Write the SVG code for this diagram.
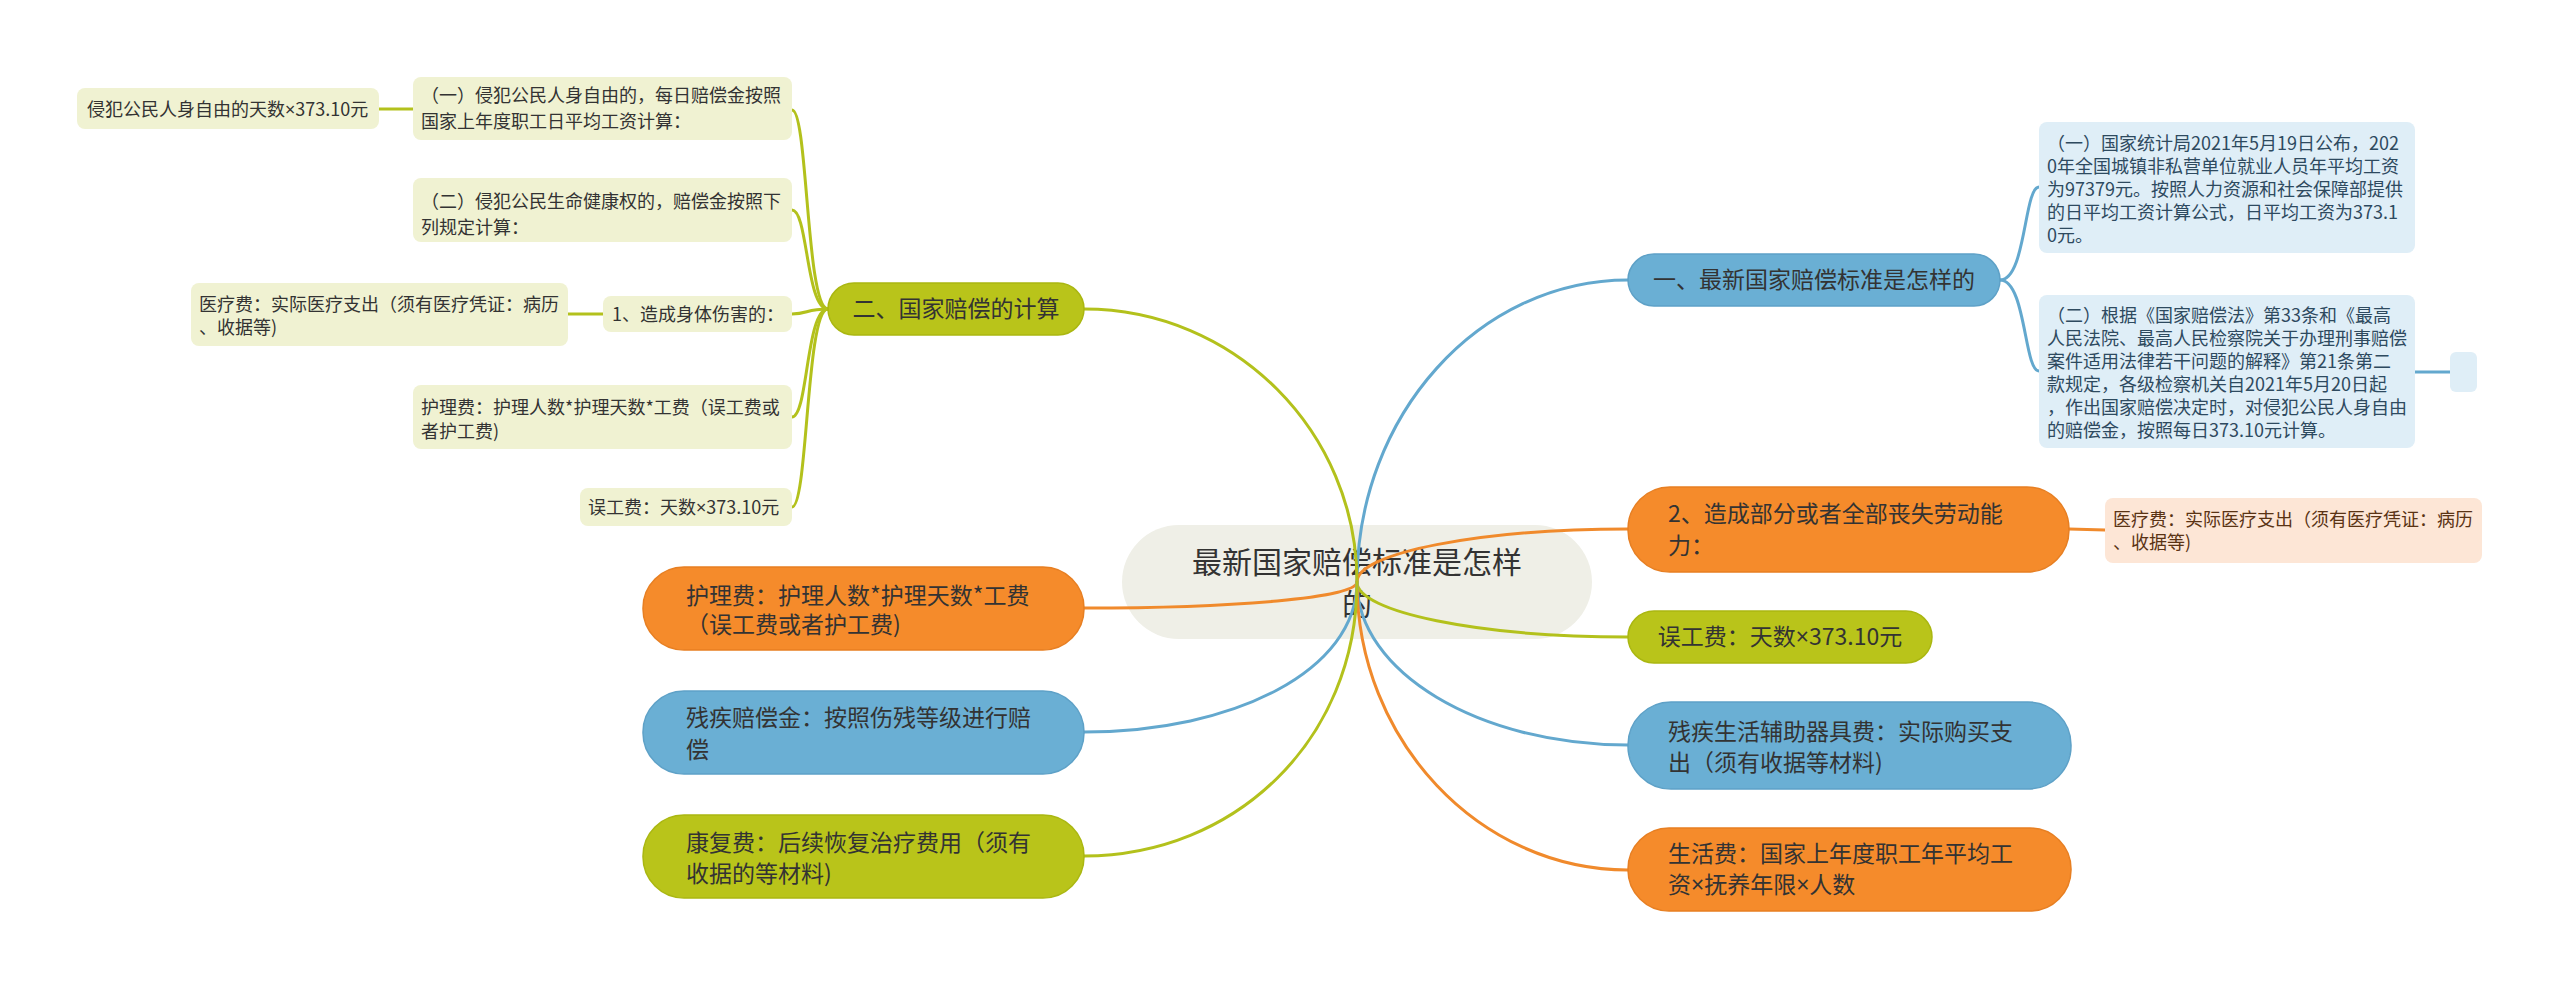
<svg xmlns="http://www.w3.org/2000/svg" width="2560" height="990" viewBox="0 0 2560 990">
<style>
.t{font-family:"Noto Sans CJK SC","Noto Sans",sans-serif;fill:#333}
.x{font-family:"Noto Sans","DejaVu Sans",sans-serif}
.f30{font-size:30px}
.f23{font-size:23px}
.f18{font-size:18px}
.pb{fill:#6aafd4;stroke:#5ea1c7;stroke-width:1.5}
.po{fill:#f58b2b;stroke:#e77f22;stroke-width:1.5}
.pg{fill:#b9c41a;stroke:#aab711;stroke-width:1.5}
.sb{fill:#dfeef7}
.sy{fill:#f0f2d2}
.sp{fill:#fde6d6}
.tb{fill:#2e4a5f}
.tp{fill:#5a3314}
.c{fill:none;stroke-width:3;stroke-linecap:round}
.cb{stroke:#63a8ce}
.co{stroke:#f08a2c}
.cg{stroke:#b3c11c}
</style>
<rect width="2560" height="990" fill="#ffffff"/>
<g id="center">
<rect x="1122" y="525" width="470" height="114" rx="57" fill="#efefe7"/>
<text class="t f30" x="1357" y="573" text-anchor="middle">最新国家赔偿标准是怎样</text>
<text class="t f30" x="1357" y="615" text-anchor="middle">的</text>
</g>
<g id="connectors">
<path class="c cb" d="M1357,582 C1357,415 1479,280 1628,280"/>
<path class="c co" d="M1357,582 C1357,553 1479,529 1628,529"/>
<path class="c cg" d="M1357,582 C1357,612 1479,637 1628,637"/>
<path class="c cb" d="M1357,582 C1357,672 1479,745 1628,745"/>
<path class="c co" d="M1357,582 C1357,740 1479,870 1628,870"/>
<path class="c cg" d="M1357,582 C1357,432 1235,309 1084,309"/>
<path class="c co" d="M1357,582 C1357,598 1235,608 1084,608"/>
<path class="c cb" d="M1357,582 C1357,670 1235,732 1084,732"/>
<path class="c cg" d="M1357,582 C1357,740 1235,856 1084,856"/>
<path class="c cb" d="M2000,280 C2026,280 2024,187 2039,187"/>
<path class="c cb" d="M2000,280 C2026,280 2024,371 2039,371"/>
<path class="c cb" d="M2415,372 L2450,372"/>
<path class="c co" d="M2069,529 L2105,530"/>
<path class="c cg" d="M828,309 C806,309 808,110 792,110"/>
<path class="c cg" d="M828,309 C806,309 808,210 792,210"/>
<path class="c cg" d="M828,309 C806,309 808,314 792,314"/>
<path class="c cg" d="M828,309 C806,309 808,417 792,417"/>
<path class="c cg" d="M828,309 C806,309 808,507 792,507"/>
<path class="c cg" d="M379,109 L413,109"/>
<path class="c cg" d="M568,314 L603,314"/>
</g>
<g id="n1">
<rect class="pb" x="1628" y="254" width="372" height="52" rx="26"/>
<text class="t f23" x="1814" y="288" text-anchor="middle">一、最新国家赔偿标准是怎样的</text>
</g>
<g id="n1a">
<rect class="sb" x="2039" y="122" width="376" height="131" rx="8"/>
<text class="t f18 tb" x="2047"><tspan x="2047" y="149.5">（一）国家统计局2021年5月19日公布，202</tspan><tspan x="2047" y="172.5">0年全国城镇非私营单位就业人员年平均工资</tspan><tspan x="2047" y="195.5">为97379元。按照人力资源和社会保障部提供</tspan><tspan x="2047" y="218.5">的日平均工资计算公式，日平均工资为373.1</tspan><tspan x="2047" y="241.5">0元。</tspan></text>
</g>
<g id="n1b">
<rect class="sb" x="2039" y="295" width="376" height="153" rx="8"/>
<text class="t f18 tb" x="2047"><tspan x="2047" y="321.5">（二）根据《国家赔偿法》第33条和《最高</tspan><tspan x="2047" y="344.5">人民法院、最高人民检察院关于办理刑事赔偿</tspan><tspan x="2047" y="367.5">案件适用法律若干问题的解释》第21条第二</tspan><tspan x="2047" y="390.5">款规定，各级检察机关自2021年5月20日起</tspan><tspan x="2047" y="413.5">，作出国家赔偿决定时，对侵犯公民人身自由</tspan><tspan x="2047" y="436.5">的赔偿金，按照每日373.10元计算。</tspan></text>
</g>
<g id="n1c">
<rect class="sb" x="2450" y="352" width="27" height="40" rx="6"/>
</g>
<g id="n2">
<rect class="po" x="1628" y="487" width="441" height="85" rx="42"/>
<text class="t f23" x="1668"><tspan x="1668" y="522">2、造成部分或者全部丧失劳动能</tspan><tspan x="1668" y="554">力：</tspan></text>
</g>
<g id="n2a">
<rect class="sp" x="2105" y="498" width="377" height="65" rx="8"/>
<text class="t f18 tp" x="2113"><tspan x="2113" y="525.5">医疗费：实际医疗支出（须有医疗凭证：病历</tspan><tspan x="2113" y="548.5">、收据等)</tspan></text>
</g>
<g id="n3">
<rect class="pg" x="1628" y="611" width="304" height="52" rx="26"/>
<text class="t f23" x="1780" y="645" text-anchor="middle">误工费：天数<tspan class="x">×</tspan>373.10元</text>
</g>
<g id="n4">
<rect class="pb" x="1628" y="702" width="443" height="87" rx="43"/>
<text class="t f23" x="1668"><tspan x="1668" y="740">残疾生活辅助器具费：实际购买支</tspan><tspan x="1668" y="771">出（须有收据等材料)</tspan></text>
</g>
<g id="n5">
<rect class="po" x="1628" y="828" width="443" height="83" rx="41"/>
<text class="t f23" x="1668"><tspan x="1668" y="862">生活费：国家上年度职工年平均工</tspan><tspan x="1668" y="893">资<tspan class="x">×</tspan>抚养年限<tspan class="x">×</tspan>人数</tspan></text>
</g>
<g id="n6">
<rect class="pg" x="828" y="283" width="256" height="52" rx="26"/>
<text class="t f23" x="956" y="317" text-anchor="middle">二、国家赔偿的计算</text>
</g>
<g id="n6a">
<rect class="sy" x="413" y="77" width="379" height="63" rx="8"/>
<text class="t f18" x="421"><tspan x="421" y="101.5">（一）侵犯公民人身自由的，每日赔偿金按照</tspan><tspan x="421" y="127.5">国家上年度职工日平均工资计算：</tspan></text>
</g>
<g id="n6a1">
<rect class="sy" x="77" y="88" width="302" height="41" rx="8"/>
<text class="t f18" x="87" y="115.5">侵犯公民人身自由的天数<tspan class="x">×</tspan>373.10元</text>
</g>
<g id="n6b">
<rect class="sy" x="413" y="178" width="379" height="64" rx="8"/>
<text class="t f18" x="421"><tspan x="421" y="207.5">（二）侵犯公民生命健康权的，赔偿金按照下</tspan><tspan x="421" y="233.5">列规定计算：</tspan></text>
</g>
<g id="n6c">
<rect class="sy" x="603" y="296" width="189" height="36" rx="8"/>
<text class="t f18" x="612" y="320.5">1、造成身体伤害的：</text>
</g>
<g id="n6c1">
<rect class="sy" x="191" y="283" width="377" height="63" rx="8"/>
<text class="t f18" x="199"><tspan x="199" y="310.5">医疗费：实际医疗支出（须有医疗凭证：病历</tspan><tspan x="199" y="333.5">、收据等)</tspan></text>
</g>
<g id="n6d">
<rect class="sy" x="413" y="385" width="379" height="64" rx="8"/>
<text class="t f18" x="421"><tspan x="421" y="413.5">护理费：护理人数*护理天数*工费（误工费或</tspan><tspan x="421" y="437.5">者护工费)</tspan></text>
</g>
<g id="n6e">
<rect class="sy" x="580" y="488" width="212" height="38" rx="8"/>
<text class="t f18" x="588" y="514">误工费：天数<tspan class="x">×</tspan>373.10元</text>
</g>
<g id="n7">
<rect class="po" x="643" y="567" width="441" height="83" rx="41"/>
<text class="t f23" x="686"><tspan x="686" y="604">护理费：护理人数*护理天数*工费</tspan><tspan x="686" y="633">（误工费或者护工费)</tspan></text>
</g>
<g id="n8">
<rect class="pb" x="643" y="691" width="441" height="83" rx="41"/>
<text class="t f23" x="686"><tspan x="686" y="726">残疾赔偿金：按照伤残等级进行赔</tspan><tspan x="686" y="758">偿</tspan></text>
</g>
<g id="n9">
<rect class="pg" x="643" y="815" width="441" height="83" rx="41"/>
<text class="t f23" x="686"><tspan x="686" y="851">康复费：后续恢复治疗费用（须有</tspan><tspan x="686" y="882">收据的等材料)</tspan></text>
</g>
</svg>
